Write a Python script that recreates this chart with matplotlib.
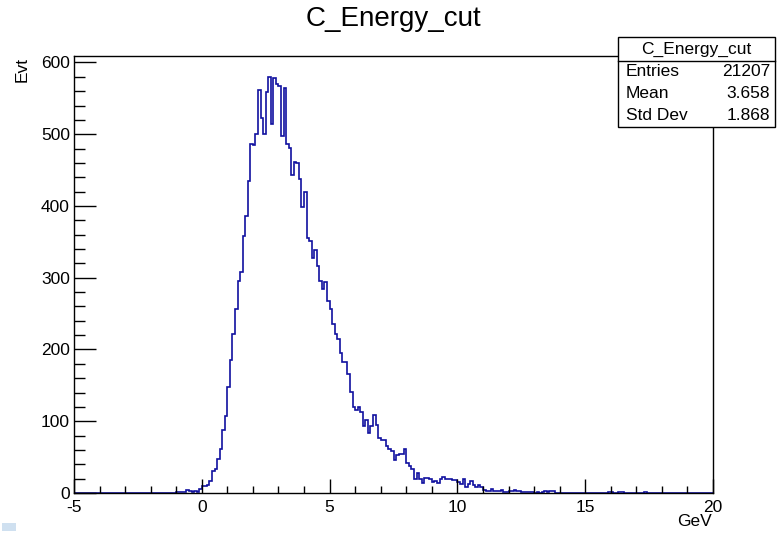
import numpy as np
import matplotlib
matplotlib.use("Agg")
import matplotlib.pyplot as plt
from matplotlib.patches import Rectangle
from matplotlib.ticker import MultipleLocator

plt.rcParams['font.family'] = ['Liberation Sans', 'DejaVu Sans']

# ---------------- data ----------------
title = "C_Energy_cut"
xmin, xmax, nbins = -5.0, 20.0, 250
ymax = 609
x_label = "GeV"
y_label = "Evt"

counts_below_m1 = [0] * 40                      # x in [-5, -1)
counts_m1_0 = [2, 2, 2, 2, 4, 3, 2, 3, 2, 5]    # x in [-1, 0)
counts_0_5 = [10, 10, 11, 17, 30, 33, 48, 62, 88, 108,
              148, 185, 221, 256, 295, 308, 358, 386, 435, 486,
              485, 500, 562, 522, 500, 559, 580, 514, 578, 570,
              567, 497, 565, 486, 481, 443, 461, 460, 437, 398,
              419, 355, 351, 328, 339, 316, 295, 284, 294, 268]
counts_5_10 = [256, 236, 221, 215, 195, 183, 183, 166, 141, 120,
               116, 120, 113, 93, 102, 83, 93, 109, 95, 76,
               74, 74, 65, 62, 58, 46, 53, 55, 55, 61,
               42, 38, 33, 20, 28, 20, 14, 21, 21, 19,
               16, 17, 14, 19, 22, 20, 20, 19, 18, 18]
counts_10_15 = [16, 12, 19, 9, 13, 17, 11, 9, 11, 9,
                4, 3, 3, 6, 3, 3, 3, 4, 2, 2,
                3, 3, 4, 3, 3, 2, 2, 2, 1, 1,
                0, 1, 0, 1, 3, 1, 3, 3, 0, 0,
                0, 0, 0, 0, 0, 0, 0, 0, 0, 0]
counts_15_20 = [0, 0, 0, 0, 0, 0, 0, 0, 0, 2,
                1, 0, 0, 2, 1, 0, 0, 0, 0, 0,
                0, 0, 0, 2, 0, 0, 0, 0, 0, 0,
                0, 0, 0, 0, 0, 0, 0, 0, 0, 0,
                0, 0, 0, 0, 0, 0, 0, 0, 0, 0]

stats_names = ["Entries", "Mean", "Std Dev"]
stats_values = ["21207", "3.658", "1.868"]

counts = np.array(counts_below_m1 + counts_m1_0 + counts_0_5 + counts_5_10
                  + counts_10_15 + counts_15_20, dtype=float)
edges = np.linspace(xmin, xmax, nbins + 1)

# ---------------- figure ----------------
W, H = 777, 533
fig = plt.figure(figsize=(W / 100, H / 100), dpi=100)
ax = fig.add_axes([74 / W, 1 - 493 / H, (713 - 74) / W, (493 - 56) / H])

ax.stairs(counts, edges, color="#10109f", lw=1.2, baseline=0)
ax.set_xlim(xmin, xmax)
ax.set_ylim(0, ymax)

for s in ax.spines.values():
    s.set_linewidth(1.0)
    s.set_color("black")

ax.xaxis.set_major_locator(MultipleLocator(5))
ax.xaxis.set_minor_locator(MultipleLocator(1))
ax.yaxis.set_major_locator(MultipleLocator(100))
ax.yaxis.set_minor_locator(MultipleLocator(20))
ax.tick_params(axis='both', which='both', direction='in', top=False, right=False,
               labelsize=12.5, width=1.0, colors='black')
ax.tick_params(axis='x', which='major', length=10, pad=5)
ax.tick_params(axis='x', which='minor', length=5)
ax.tick_params(axis='y', which='major', length=16, pad=3)
ax.tick_params(axis='y', which='minor', length=8)
ax.set_xticks([-5, 0, 5, 10, 15, 20])
ax.set_xticklabels(["-5", "0", "5", "10", "15", "20"])

# title
fig.text(393 / W, 1 - 19 / H, title, ha='center', va='center', fontsize=20)

# axis labels
fig.text(712 / W, 1 - 521 / H, x_label, ha='right', va='center', fontsize=12.5)
fig.text(22.5 / W, 1 - 57 / H, y_label, ha='center', va='top', rotation=90,
         fontsize=12.5)

# stats box
bx0, bx1, by0, by1, bdiv = 618, 775, 37, 127, 61
fig.patches.append(Rectangle((bx0 / W, 1 - by1 / H), (bx1 - bx0) / W,
                             (by1 - by0) / H, transform=fig.transFigure,
                             facecolor='white', edgecolor='black', lw=1.0,
                             zorder=5))
fig.lines.append(plt.Line2D([bx0 / W, bx1 / W], [1 - bdiv / H, 1 - bdiv / H],
                            transform=fig.transFigure, color='black', lw=1.0,
                            zorder=6))
fig.text((bx0 + bx1) / 2 / W, 1 - 49 / H, title, ha='center', va='center',
         fontsize=12.5, zorder=7)
row_y = [71, 93, 115]
for name, val, yy in zip(stats_names, stats_values, row_y):
    fig.text(626 / W, 1 - yy / H, name, ha='left', va='center', fontsize=12.5,
             zorder=7)
    fig.text(770 / W, 1 - yy / H, val, ha='right', va='center', fontsize=12.5,
             zorder=7)

# small marker square at bottom-left
fig.patches.append(Rectangle((2 / W, 1 - 531 / H), 14 / W, 8 / H,
                             transform=fig.transFigure, facecolor='#cfe0f0',
                             edgecolor='none'))

fig.savefig("out.png", dpi=100)
